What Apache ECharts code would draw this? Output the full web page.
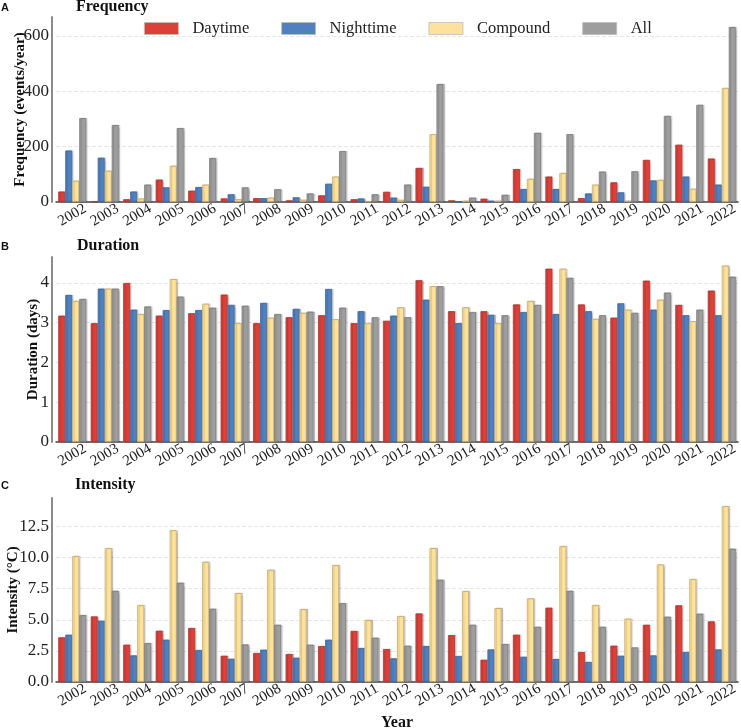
<!DOCTYPE html>
<html>
<head>
<meta charset="utf-8">
<script src="https://cdn.jsdelivr.net/npm/echarts@6/dist/echarts.min.js"></script>
<style>
  html, body { margin: 0; padding: 0; background: #fff; }
  #main { width: 741px; height: 728px; }
</style>
</head>
<body>
<div id="main"></div>
<script>
var years = ['2002','2003','2004','2005','2006','2007','2008','2009','2010','2011',
    '2012','2013','2014','2015','2016','2017','2018','2019','2020','2021','2022'];
var seriesNames = ['Daytime', 'Nighttime', 'Compound', 'All'];

// A: frequency (events/year)
var freqDay   = [38, 2, 10, 81, 41, 13, 14, 6, 24, 10, 37, 123, 6, 12, 119, 92, 14, 71, 152, 207, 157];
var freqNight = [186, 160, 38, 53, 54, 28, 14, 17, 66, 13, 16, 55, 2, 5, 47, 47, 31, 35, 78, 92, 63];
var freqComp  = [77, 113, 13, 131, 63, 10, 16, 8, 92, 2, 8, 245, 5, 5, 84, 105, 63, 5, 80, 48, 412];
var freqAll   = [303, 278, 63, 267, 159, 53, 46, 31, 184, 28, 63, 426, 16, 26, 250, 245, 110, 111, 311, 351, 632];

// B: duration (days)
var durDay   = [3.18, 2.99, 4.00, 3.18, 3.24, 3.71, 2.99, 3.14, 3.19, 2.99, 3.05, 4.07, 3.29, 3.29, 3.46, 4.36, 3.46, 3.13, 4.06, 3.45, 3.81];
var durNight = [3.70, 3.86, 3.33, 3.32, 3.32, 3.45, 3.50, 3.35, 3.85, 3.29, 3.18, 3.58, 2.99, 3.20, 3.27, 3.22, 3.29, 3.49, 3.33, 3.19, 3.19];
var durComp  = [3.55, 3.86, 3.22, 4.10, 3.48, 2.99, 3.13, 3.25, 3.09, 2.99, 3.39, 3.92, 3.39, 2.99, 3.55, 4.36, 3.10, 3.33, 3.58, 3.04, 4.44];
var durAll   = [3.60, 3.86, 3.41, 3.66, 3.38, 3.43, 3.22, 3.28, 3.38, 3.14, 3.14, 3.92, 3.27, 3.19, 3.45, 4.13, 3.19, 3.25, 3.76, 3.33, 4.16];

// C: intensity (°C)
var intDay   = [3.59, 5.27, 3.00, 4.12, 4.34, 2.11, 2.33, 2.25, 2.89, 4.10, 2.65, 5.51, 3.77, 1.79, 3.80, 5.97, 2.41, 2.92, 4.60, 6.16, 4.87];
var intNight = [3.80, 4.92, 2.14, 3.40, 2.57, 1.87, 2.60, 1.95, 3.40, 2.73, 1.90, 2.89, 2.09, 2.62, 2.03, 1.85, 1.61, 2.11, 2.14, 2.41, 2.62];
var intComp  = [10.12, 10.76, 6.18, 12.2, 9.66, 7.15, 9.02, 5.86, 9.40, 4.98, 5.30, 10.76, 7.31, 5.94, 6.72, 10.92, 6.18, 5.09, 9.45, 8.27, 14.13];
var intAll   = [5.38, 7.33, 3.13, 7.98, 5.89, 3.02, 4.60, 3.00, 6.34, 3.56, 2.92, 8.22, 4.60, 3.05, 4.44, 7.33, 4.44, 2.78, 5.25, 5.49, 10.71];

var panels = [
    { data: [freqDay, freqNight, freqComp, freqAll], max: 668, interval: 200, name: 'Frequency (events/year)', nameGap: 24, dec: 0 },
    { data: [durDay, durNight, durComp, durAll], max: 4.654, interval: 1, name: 'Duration (days)', nameGap: 11, dec: 0 },
    { data: [intDay, intNight, intComp, intAll], max: 14.78, interval: 2.5, name: 'Intensity (\u00B0C)', nameGap: 31, dec: 1 }
];

var fills   = ['#DB4039', '#5180BF', '#FDE29B', '#9E9E9E'];
var borders = ['#B5332E', '#3F67A0', '#C9AB68', '#7C7C7C'];
var serif = 'Liberation Serif';

var gridTops = [17, 257, 498];
var gridHeights = [185, 185, 184];

var grids = [], xAxes = [], yAxes = [], series = [];
panels.forEach(function (p, i) {
    grids.push({ left: 56, right: 3, top: gridTops[i], height: gridHeights[i], outerBoundsMode: 'none' });
    xAxes.push({
        type: 'category', gridIndex: i, data: years,
        name: i === 2 ? 'Year' : '',
        nameLocation: 'middle', nameGap: 33, nameMoveOverlap: false,
        nameTextStyle: { fontFamily: serif, fontWeight: 'bold', fontSize: 16, color: '#111' },
        axisLine: { lineStyle: { color: '#444', width: 1.5 } },
        axisTick: { alignWithLabel: true, length: 4, lineStyle: { color: '#444' } },
        axisLabel: {
            interval: 0, rotate: 30, align: 'center', verticalAlign: 'middle', margin: 13,
            fontFamily: serif, fontSize: 15, color: '#222'
        },
        splitLine: { show: false }
    });
    yAxes.push({
        type: 'value', gridIndex: i, min: 0, max: p.max, interval: p.interval, offset: 4,
        name: p.name, nameLocation: 'middle', nameGap: p.nameGap, nameMoveOverlap: false,
        nameTextStyle: { fontFamily: serif, fontWeight: 'bold', fontSize: 15, color: '#111' },
        axisLine: { show: true, lineStyle: { color: '#8C8C8C', width: 2 } },
        axisTick: { show: false },
        axisLabel: {
            showMaxLabel: false, margin: 3,
            fontFamily: serif, fontSize: 17, color: '#222',
            formatter: function (v) { return v.toFixed(p.dec); }
        },
        splitLine: { show: true, showMinLine: false, showMaxLine: false,
            lineStyle: { color: '#E6E6E6', type: 'dashed', width: 1 } }
    });
    p.data.forEach(function (arr, k) {
        series.push({
            name: seriesNames[k], type: 'bar', xAxisIndex: i, yAxisIndex: i,
            data: arr, barWidth: 7, barGap: '0%',
            itemStyle: { color: fills[k], borderColor: borders[k], borderWidth: 0.8,
                shadowColor: 'rgba(0,0,0,0.18)', shadowOffsetX: 1.5, shadowBlur: 1 },
            emphasis: { disabled: true }
        });
    });
});

var titles = [
    { text: 'A', left: 1, top: 2, textStyle: { fontFamily: 'Liberation Sans', fontWeight: 'bold', fontSize: 11, color: '#111' } },
    { text: 'Frequency', left: 76, top: -1, textStyle: { fontFamily: serif, fontWeight: 'bold', fontSize: 16, color: '#111' } },
    { text: 'B', left: 1, top: 241, textStyle: { fontFamily: 'Liberation Sans', fontWeight: 'bold', fontSize: 11, color: '#111' } },
    { text: 'Duration', left: 77, top: 238, textStyle: { fontFamily: serif, fontWeight: 'bold', fontSize: 16, color: '#111' } },
    { text: 'C', left: 1, top: 480, textStyle: { fontFamily: 'Liberation Sans', fontWeight: 'bold', fontSize: 11, color: '#111' } },
    { text: 'Intensity', left: 75, top: 477, textStyle: { fontFamily: serif, fontWeight: 'bold', fontSize: 16, color: '#111' } }
];
titles.forEach(function (t) { t.padding = 0; });

var option = {
    backgroundColor: '#fff',
    animation: false,
    title: titles,
    legend: {
        data: seriesNames, left: 144, top: 20,
        itemWidth: 34, itemHeight: 12, itemGap: 32, padding: 0,
        icon: 'rect',
        itemStyle: { borderColor: '#BDBDBD', borderWidth: 0.8 },
        textStyle: { fontFamily: serif, fontSize: 16.5, color: '#222', padding: [0, 0, 0, 9] }
    },
    grid: grids,
    xAxis: xAxes,
    yAxis: yAxes,
    series: series
};

var myChart = echarts.init(document.getElementById('main'));
myChart.setOption(option);
</script>
</body>
</html>
